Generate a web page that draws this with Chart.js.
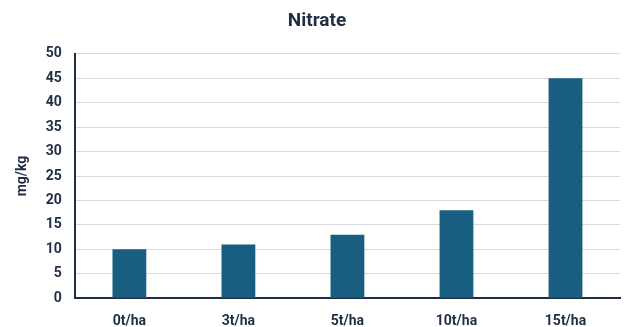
<!DOCTYPE html>
<html>
<head>
<meta charset="utf-8">
<script src="https://cdn.jsdelivr.net/npm/chart.js@4/dist/chart.umd.min.js"></script>
<style>
  html, body { margin: 0; padding: 0; background: #ffffff; }
  #wrap { width: 624px; height: 327px; }
</style>
</head>
<body>
<div id="wrap"><canvas id="c" width="624" height="327"></canvas></div>
<script>
// Application rates and measured nitrate concentration
const categories = ['0t/ha', '3t/ha', '5t/ha', '10t/ha', '15t/ha'];
const nitrate = [10, 11, 13, 18, 45];
const yTicks = [0, 5, 10, 15, 20, 25, 30, 35, 40, 45, 50];

const ink = '#1f2d45';
const fontFamily = 'Roboto, "Liberation Sans", sans-serif';

new Chart(document.getElementById('c'), {
  type: 'bar',
  data: {
    labels: categories,
    datasets: [{
      label: 'Nitrate',
      data: nitrate,
      backgroundColor: '#175e80',
      borderWidth: 0,
      barPercentage: 0.31,
      categoryPercentage: 1.0
    }]
  },
  options: {
    responsive: false,
    animation: false,
    devicePixelRatio: 1,
    layout: { padding: { left: 14, right: 4, top: 0, bottom: -18 } },
    plugins: {
      legend: { display: false },
      tooltip: { enabled: false },
      title: {
        display: true,
        text: 'Nitrate',
        color: ink,
        font: { family: fontFamily, size: 19, weight: 'bold' },
        padding: { top: 10, bottom: 21 }
      }
    },
    scales: {
      x: {
        grid: { display: false, drawTicks: false },
        border: { display: true, color: ink, width: 2 },
        ticks: {
          color: ink,
          padding: 15,
          font: { family: fontFamily, size: 14, weight: 'bold' }
        }
      },
      y: {
        min: 0,
        max: 50,
        afterBuildTicks: axis => { axis.ticks = yTicks.map(v => ({ value: v })); },
        grid: { color: '#d9d9d9', lineWidth: 1, drawTicks: false },
        border: { display: true, color: ink, width: 2 },
        ticks: {
          color: ink,
          padding: 13,
          font: { family: fontFamily, size: 14, weight: 'bold' }
        },
        title: {
          display: true,
          text: 'mg/kg',
          color: ink,
          padding: { top: 0, bottom: 2 },
          font: { family: fontFamily, size: 14, weight: 'bold' }
        }
      }
    }
  }
});
</script>
</body>
</html>
